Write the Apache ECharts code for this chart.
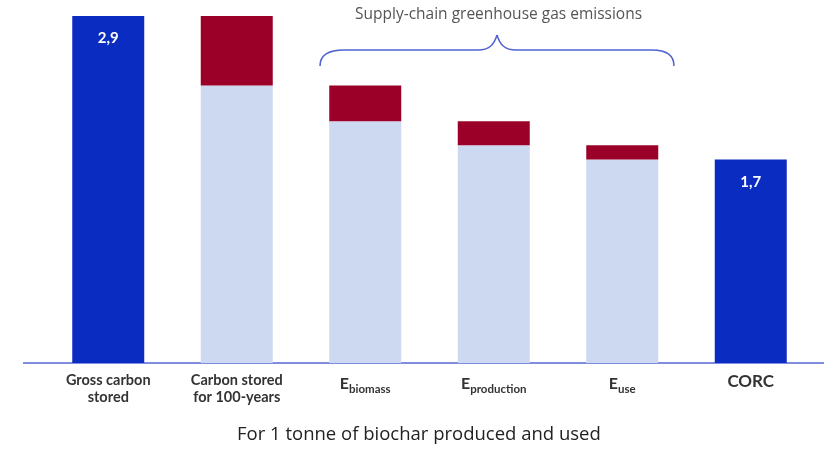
<!DOCTYPE html>
<html>
<head>
<meta charset="utf-8">
<script src="https://cdn.jsdelivr.net/npm/echarts@6/dist/echarts.min.js"></script>
<style>
  html, body { margin: 0; padding: 0; background: #ffffff; }
  #chart { width: 824px; height: 451px; }
</style>
</head>
<body>
<div id="chart"></div>
<script>
// Waterfall of carbon removal for one tonne of biochar (t CO2e)
const categories = ['gross', 'stored100', 'biomass', 'production', 'use', 'corc'];
const categoryLabels = ['Gross carbon\nstored', 'Carbon stored\nfor 100-years', 'E|biomass', 'E|production', 'E|use', 'CORC'];
// part of each column that remains stored
const storedValues = [2.9, 2.32, 2.02, 1.82, 1.70, 1.7];
// part of each column deducted at that step
const deductionValues = [0, 0.58, 0.30, 0.20, 0.12, 0];
// columns drawn as totals (with a value label)
const totalColumns = ['gross', 'corc'];

const BLUE = '#0a2cc0';
const LIGHT = '#cdd8f1';
const RED = '#9a0028';
const BRACE = '#4f63d2';
const LABEL_FONT = "Lato, 'Open Sans', sans-serif";

const chart = echarts.init(document.getElementById('chart'), null, { renderer: 'canvas' });

const storedData = storedValues.map((v, i) => {
  const isTotal = totalColumns.includes(categories[i]);
  return {
    value: v,
    itemStyle: { color: isTotal ? BLUE : LIGHT },
    label: { show: isTotal }
  };
});

const braceStyle = { fill: null, stroke: BRACE, lineWidth: 1.5 };

chart.setOption({
  animation: false,
  grid: { left: 44, right: 9, top: 16, bottom: 88, containLabel: false },
  xAxis: {
    type: 'category',
    data: categories,
    axisLine: { show: false },
    axisTick: { show: false },
    axisLabel: {
      margin: 9,
      interval: 0,
      formatter: (val) => {
        const txt = categoryLabels[categories.indexOf(val)];
        if (txt.includes('|')) {
          const [e, sub] = txt.split('|');
          return '{e|' + e + '}{sub|' + sub + '}';
        }
        if (!txt.includes('\n')) return '{big|' + txt + '}';
        return '{main|' + txt.replace('\n', '}\n{main|') + '}';
      },
      rich: {
        main: { fontFamily: LABEL_FONT, fontSize: 14.5, fontWeight: 700, color: '#333333', lineHeight: 17, align: 'center' },
        big: { fontFamily: LABEL_FONT, fontSize: 17, fontWeight: 700, color: '#333333', lineHeight: 20, align: 'center' },
        e: { fontFamily: LABEL_FONT, fontSize: 16, fontWeight: 700, color: '#333333', lineHeight: 20, verticalAlign: 'bottom' },
        sub: { fontFamily: LABEL_FONT, fontSize: 11.5, fontWeight: 700, color: '#333333', lineHeight: 20, verticalAlign: 'bottom', padding: [0, 0, -3, 0] }
      }
    }
  },
  yAxis: {
    type: 'value',
    min: 0,
    max: 2.9,
    show: false,
    splitLine: { show: false }
  },
  series: [
    {
      name: 'Stored',
      type: 'bar',
      stack: 'carbon',
      barWidth: 72,
      data: storedData,
      label: {
        position: 'insideTop',
        distance: 15,
        color: '#ffffff',
        fontFamily: LABEL_FONT,
        fontWeight: 700,
        fontSize: 15,
        formatter: (p) => String(p.value).replace('.', ',')
      }
    },
    {
      name: 'Supply-chain emissions',
      type: 'bar',
      stack: 'carbon',
      barWidth: 72,
      itemStyle: { color: RED },
      data: deductionValues
    }
  ],
  graphic: [
    // baseline
    {
      type: 'line',
      shape: { x1: 23, y1: 363, x2: 824, y2: 363 },
      style: { stroke: '#5566d6', lineWidth: 1.5 }
    },
    // curly brace over the supply-chain steps
    { type: 'bezierCurve', shape: { x1: 320, y1: 66, cpx1: 320, cpy1: 56, cpx2: 328, cpy2: 50, x2: 344, y2: 50 }, style: braceStyle },
    { type: 'line', shape: { x1: 344, y1: 50, x2: 478, y2: 50 }, style: braceStyle },
    { type: 'bezierCurve', shape: { x1: 478, y1: 50, cpx1: 489, cpy1: 50, cpx2: 494, cpy2: 45, x2: 497, y2: 35 }, style: braceStyle },
    { type: 'bezierCurve', shape: { x1: 497, y1: 35, cpx1: 500, cpy1: 45, cpx2: 505, cpy2: 50, x2: 516, y2: 50 }, style: braceStyle },
    { type: 'line', shape: { x1: 516, y1: 50, x2: 652, y2: 50 }, style: braceStyle },
    { type: 'bezierCurve', shape: { x1: 652, y1: 50, cpx1: 667, cpy1: 50, cpx2: 674, cpy2: 56, x2: 674, y2: 66 }, style: braceStyle },
    {
      type: 'text',
      left: 355,
      top: 7,
      style: {
        text: 'Supply-chain greenhouse gas emissions',
        fill: '#555555',
        font: "15.5px 'Open Sans', 'Noto Sans', sans-serif"
      }
    },
    {
      type: 'text',
      left: 237,
      top: 425,
      style: {
        text: 'For 1 tonne of biochar produced and used',
        fill: '#222222',
        font: "18.5px 'Open Sans', 'Noto Sans', sans-serif"
      }
    }
  ]
});
</script>
</body>
</html>
